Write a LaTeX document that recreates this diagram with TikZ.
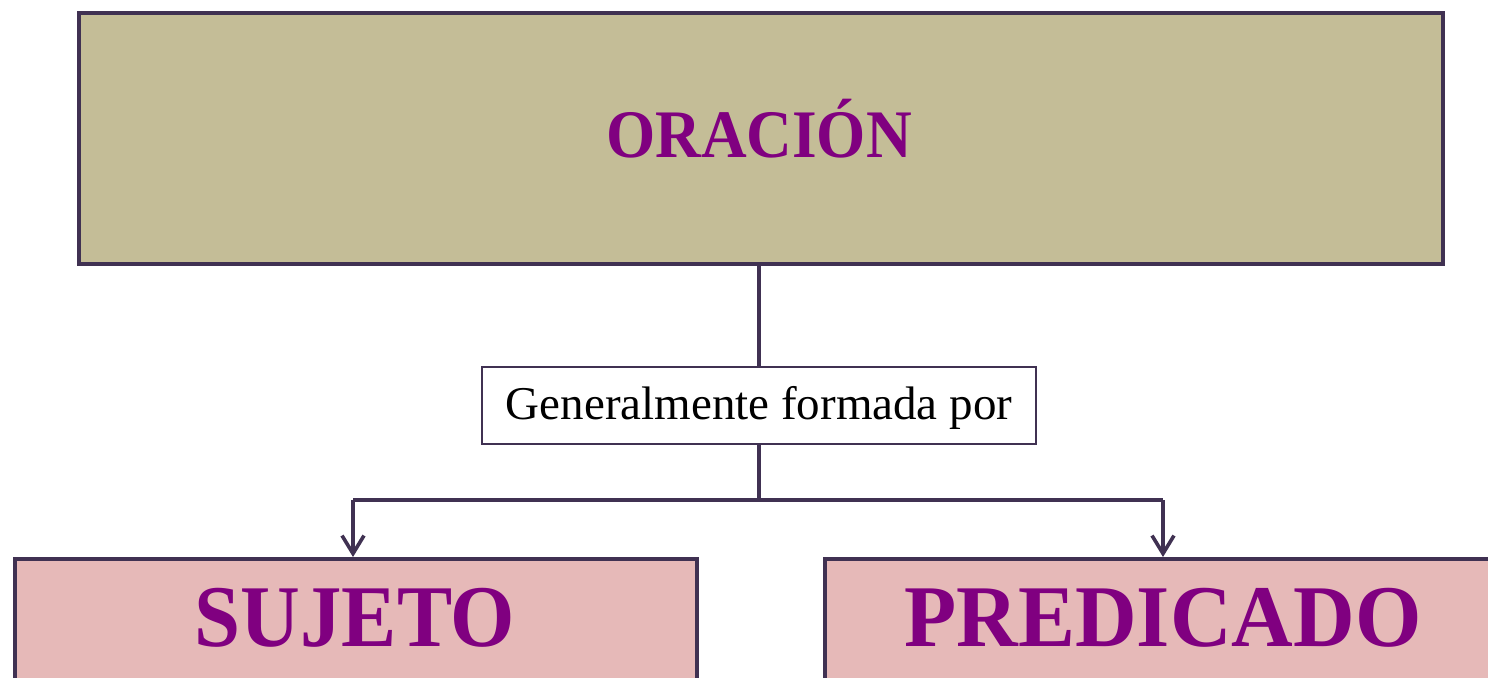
\documentclass[tikz,border=0pt]{standalone}
\usepackage{fontspec}
\setmainfont{Liberation Serif}
\usetikzlibrary{arrows.meta}
\definecolor{bordc}{HTML}{403152}
\definecolor{olivebox}{HTML}{C4BD97}
\definecolor{pinkbox}{HTML}{E6B9B8}
\definecolor{purtext}{HTML}{800080}
\tikzset{
  bigbox/.style={draw=bordc, line width=2pt, rectangle, inner sep=0pt, anchor=north west},
  lbl/.style={draw=bordc, line width=0.9pt, fill=white, rectangle, inner sep=0pt},
  conn/.style={draw=bordc, line width=2pt},
  arr/.style={conn, -{Straight Barb[length=9pt,width=11pt,line width=1.8pt]}},
}
\begin{document}
\begin{tikzpicture}[x=0.5pt,y=-0.5pt]
\clip (0,0) rectangle (1488,677);
\fill[white] (0,0) rectangle (1488,677);
% top box
\node[bigbox, fill=olivebox, minimum width=682pt, minimum height=125.5pt] (top) at (77,11) {};
\node[text=purtext, font=\fontsize{34}{40}\selectfont\bfseries] (toptxt) at (759,129) {\scalebox{0.93}[1]{ORACIÓN}};
% label box
\node[lbl, minimum width=277pt, minimum height=38.5pt] (lab) at (759,405.5) {};
\node[font=\fontsize{23.5}{28}\selectfont] (labtxt) at (759,408) {Generalmente formada por};
% bottom boxes
\node[bigbox, fill=pinkbox, minimum width=341pt, minimum height=100pt] (suj) at (13,557) {};
\node[bigbox, fill=pinkbox, minimum width=400pt, minimum height=100pt] (pred) at (823,557) {};
\node[text=purtext, font=\fontsize{44}{50}\selectfont\bfseries] (sujtxt) at (355,618) {\scalebox{0.94}[1]{SUJETO}};
\node[text=purtext, font=\fontsize{44}{50}\selectfont\bfseries] (predtxt) at (1163,618) {\scalebox{0.97}[1]{PREDICADO}};
% connectors
\coordinate (jn) at (759,500);
\coordinate (sj) at (353,500);
\coordinate (pj) at (1163,500);
\draw[conn] (top.south -| lab.north) -- (lab.north);
\draw[conn] (lab.south) -- (jn);
\draw[conn] (sj) -- (pj);
\draw[arr] (sj) -- (sj |- suj.north);
\draw[arr] (pj) -- (pj |- pred.north);
\end{tikzpicture}
\end{document}
